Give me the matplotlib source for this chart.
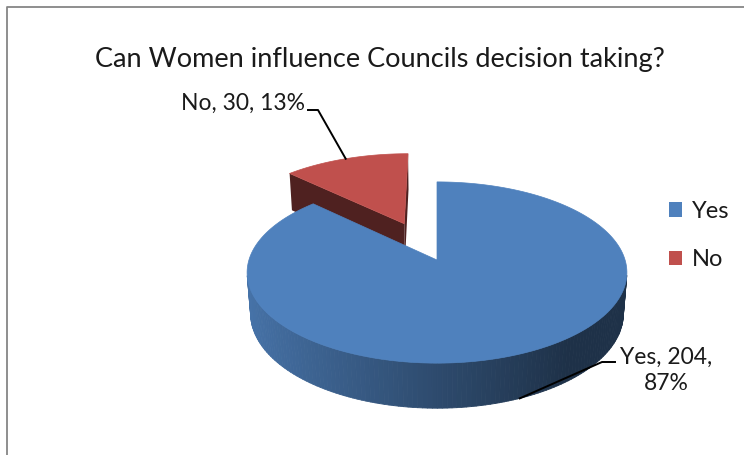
import numpy as np
import matplotlib.pyplot as plt
from matplotlib.patches import Polygon, Patch
from matplotlib.collections import PolyCollection

plt.rcParams['font.family'] = ['Lato', 'DejaVu Sans']

title = "Can Women influence Councils decision taking?"
labels = ['Yes', 'No']
counts = [204, 30]
colors = ['#4F81BD', '#C0504D']
explode = [0.0, 0.47]

W, H = 744, 455
fig = plt.figure(figsize=(W / 100, H / 100), dpi=100)
ax = fig.add_axes([0, 0, 1, 1])
ax.set_xlim(0, W)
ax.set_ylim(H, 0)
ax.axis('off')

# perspective view of the pie (pixel space)
cx, cy = 437, 260
tilt = np.radians(28.2)
dist = 6.38
focal = 1200
depth = 0.251
cam = np.array([0.0, -dist * np.cos(tilt), dist * np.sin(tilt)])


def project(X, Y, Z):
    X, Y, Z = np.asarray(X, float), np.asarray(Y, float), np.asarray(Z, float)
    v = Y * np.sin(tilt) + Z * np.cos(tilt)
    d = Y * np.cos(tilt) - Z * np.sin(tilt)
    k = focal / (dist + d)
    return cx + X * k, cy - v * k


def shade(rgb, f):
    return tuple(np.clip(np.array(rgb) * f, 0, 1))


def side_shade(t):
    return float(np.clip(0.58 - 0.32 * np.cos(t), 0.38, 0.92))


total = sum(counts)
slices = []
start = 90.0
for lab, c, col, ex in zip(labels, counts, colors, explode):
    sweep = 360.0 * c / total
    th1, th2 = np.radians(start - sweep), np.radians(start)
    start -= sweep
    mid = (th1 + th2) / 2
    ox, oy = ex * np.cos(mid), ex * np.sin(mid)
    slices.append(dict(label=lab, count=c, color=col, th1=th1, th2=th2,
                       mid=mid, ox=ox, oy=oy))

# far slices first
slices.sort(key=lambda s: -(s['oy'] + np.sin(s['mid'])))

for s in slices:
    rgb = np.array(plt.matplotlib.colors.to_rgb(s['color']))
    ox, oy = s['ox'], s['oy']
    t = np.linspace(s['th1'], s['th2'], 240)
    ax_x, ax_y = ox + np.cos(t), oy + np.sin(t)

    # outer wall
    quads, qcols = [], []
    for i in range(len(t) - 1):
        tm = (t[i] + t[i + 1]) / 2
        n = np.array([np.cos(tm), np.sin(tm), 0])
        p = np.array([ox + np.cos(tm), oy + np.sin(tm), -depth / 2])
        if n @ (cam - p) <= 0:
            continue
        xs = [ax_x[i], ax_x[i + 1], ax_x[i + 1], ax_x[i]]
        ys = [ax_y[i], ax_y[i + 1], ax_y[i + 1], ax_y[i]]
        zs = [0, 0, -depth, -depth]
        px, py = project(xs, ys, zs)
        quads.append(np.column_stack([px, py]))
        qcols.append(shade(rgb, side_shade(tm)))
    if quads:
        ax.add_collection(PolyCollection(quads, facecolors=qcols,
                                         edgecolors=qcols, linewidths=0.6))

    # cut faces
    for th, n in ((s['th1'], np.array([np.sin(s['th1']), -np.cos(s['th1']), 0])),
                  (s['th2'], np.array([-np.sin(s['th2']), np.cos(s['th2']), 0]))):
        apex = np.array([ox, oy, 0])
        if n @ (cam - apex) <= 1e-9:
            continue
        xs = [ox, ox + np.cos(th), ox + np.cos(th), ox]
        ys = [oy, oy + np.sin(th), oy + np.sin(th), oy]
        zs = [0, 0, -depth, -depth]
        px, py = project(xs, ys, zs)
        ax.add_patch(Polygon(np.column_stack([px, py]), closed=True,
                             facecolor=shade(rgb, 0.41), edgecolor='none'))

    # top face
    px, py = project(np.r_[ox, ax_x], np.r_[oy, ax_y], np.zeros(len(t) + 1))
    ax.add_patch(Polygon(np.column_stack([px, py]), closed=True,
                         facecolor=rgb, edgecolor=rgb, linewidth=0.5))

# data labels with leader lines
by_label = {s['label']: s for s in slices}
label_fs = 16.5

s = by_label['No']
pct = round(100 * s['count'] / total)
axp, ayp = project(s['ox'] + np.cos(s['mid']), s['oy'] + np.sin(s['mid']), 0)
ax.plot([float(axp), 318, 308], [float(ayp), 110, 110], color='black', lw=1.4)
ax.text(305, 103, f"{s['label']}, {s['count']}, {pct}%", fontsize=label_fs,
        ha='right', va='center', color='#1a1a1a')

s = by_label['Yes']
pct = round(100 * s['count'] / total)
axp, ayp = project(s['ox'] + np.cos(s['mid']), s['oy'] + np.sin(s['mid']), -depth)
ax.plot([float(axp), 602, 615], [float(ayp), 362, 362], color='black', lw=1.4)
ax.text(666, 370, f"{s['label']}, {s['count']},\n{pct}%", fontsize=label_fs,
        ha='center', va='center', color='#1a1a1a', linespacing=1.3)

ax.text(380, 60, title, fontsize=19.5, ha='center', va='center', color='#1a1a1a')

# chart area border
ax.plot([7, 7, W], [H, 7, 7], color='#868686', lw=1.3)

handles = [Patch(facecolor=c, edgecolor='none') for c in colors]
fig.legend(handles, labels, loc='upper left',
           bbox_to_anchor=(669 / W, 1 - 201 / H), frameon=False,
           fontsize=17, handlelength=0.56, handleheight=0.56,
           handletextpad=0.4, labelspacing=1.15, borderpad=0,
           borderaxespad=0, labelcolor='#1a1a1a')

fig.savefig('out.png', dpi=100)
